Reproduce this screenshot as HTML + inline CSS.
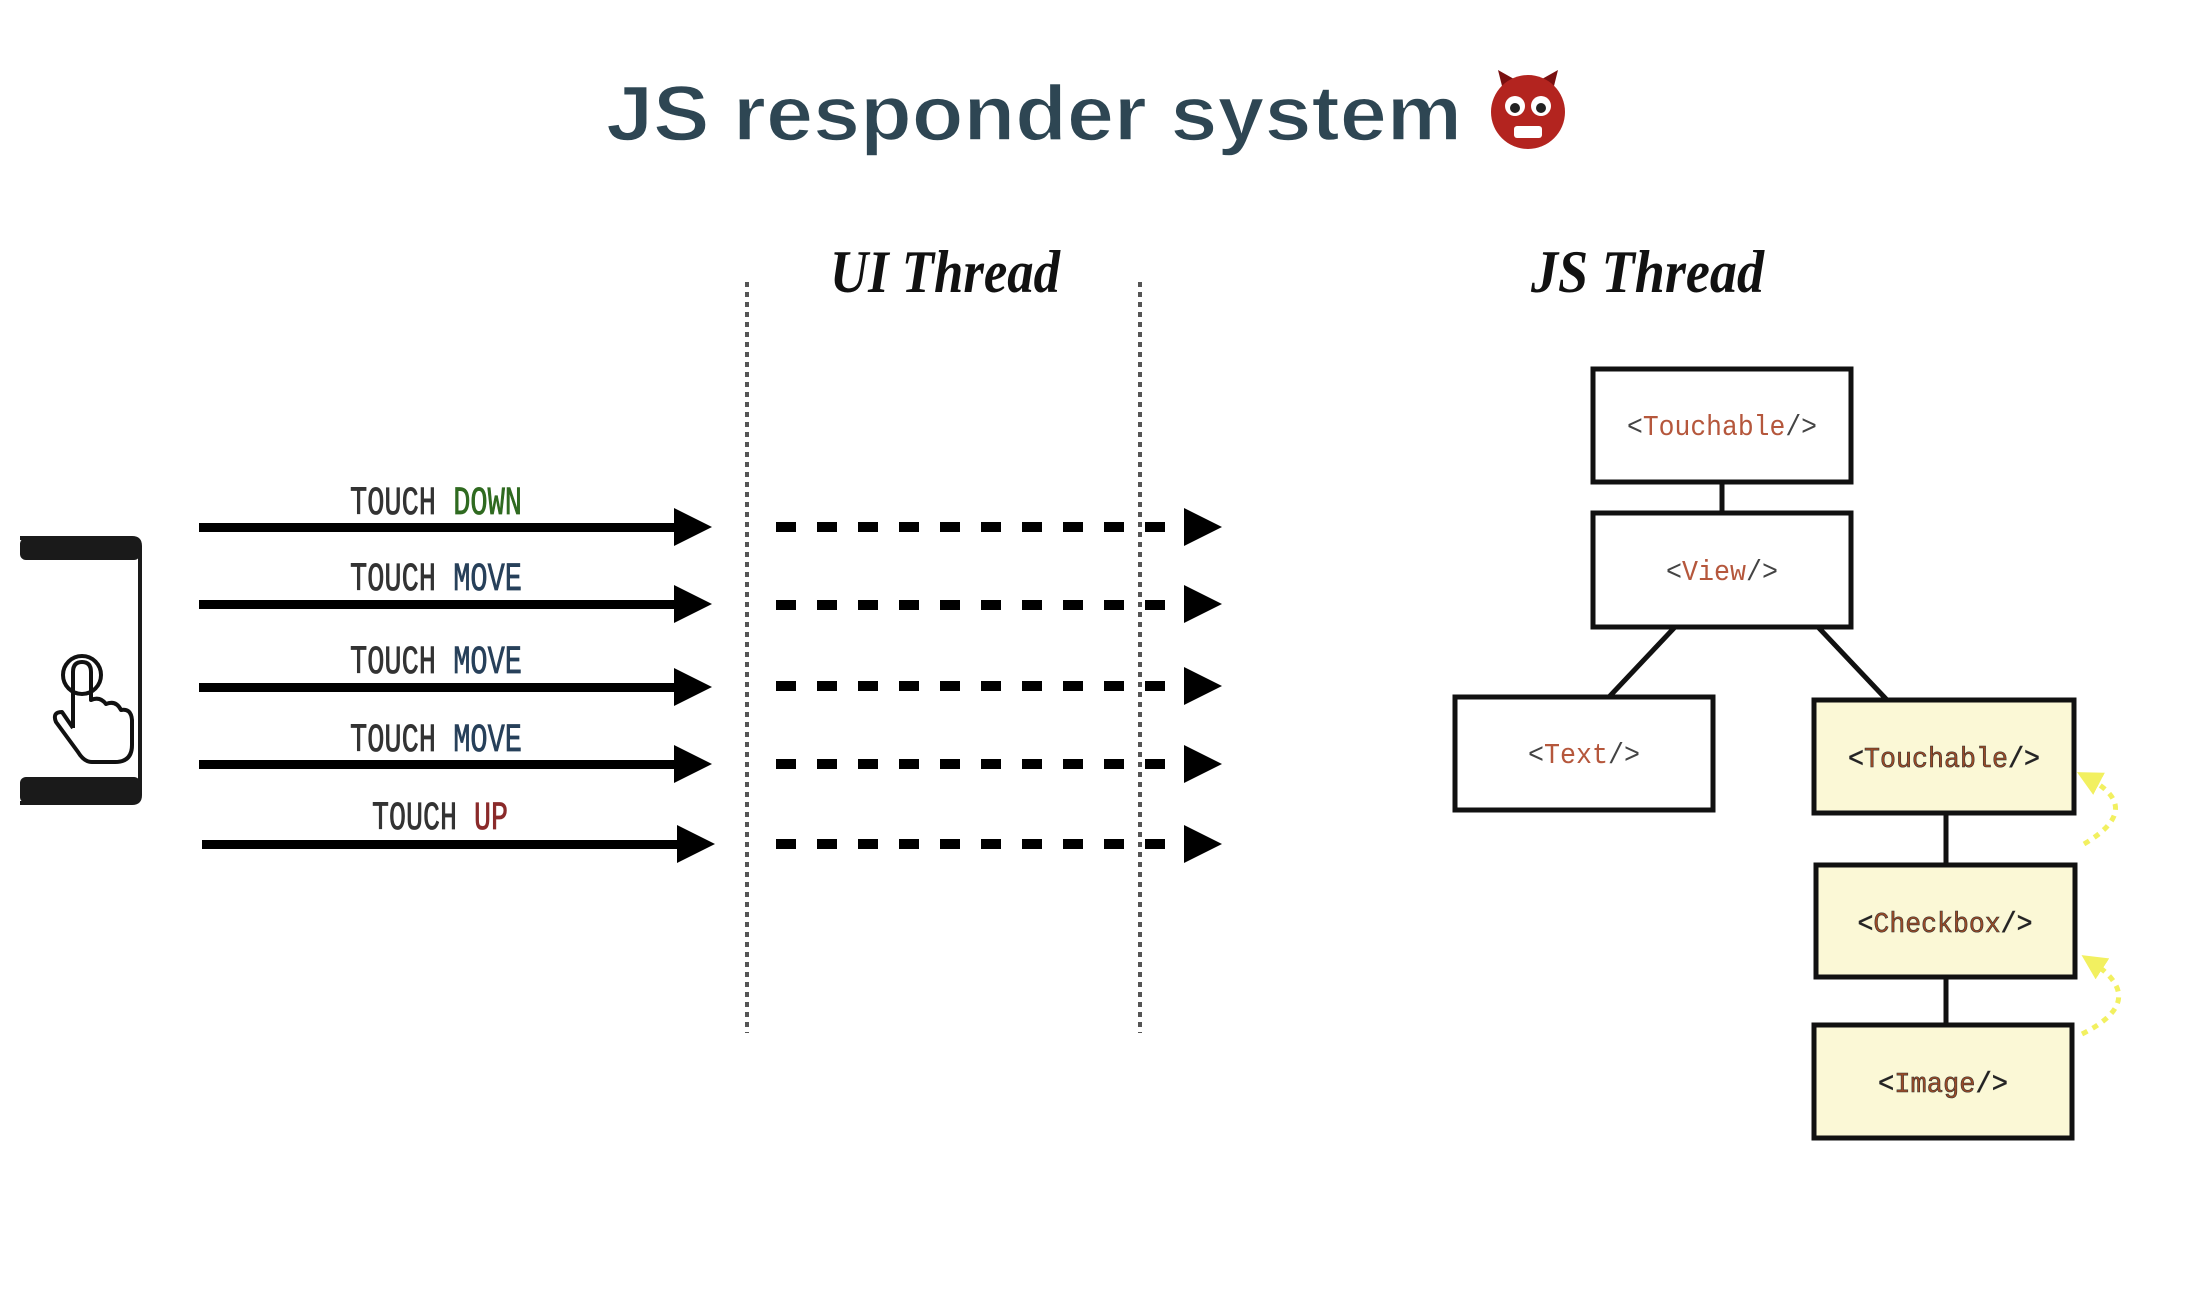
<!DOCTYPE html>
<html><head><meta charset="utf-8"><style>
html,body{margin:0;padding:0;background:#fff;}
svg{display:block}
.lbl{font-family:"Liberation Mono",monospace;font-size:40px;}
.node{font-family:"Liberation Mono",monospace;font-size:29px;}
</style></head><body>
<svg width="2198" height="1302" viewBox="0 0 2198 1302" xmlns="http://www.w3.org/2000/svg">
<defs>
<marker id="ya" markerWidth="5" markerHeight="5" refX="2.5" refY="2.5" orient="auto"><path d="M0,0 L5,2.5 L0,5z" fill="#f2f060"/></marker>
</defs>
<text x="606" y="140" font-family="Liberation Sans, sans-serif" font-weight="bold" font-size="78" fill="#2e4653" stroke="#fff" stroke-width="1.5" textLength="856" lengthAdjust="spacingAndGlyphs">JS responder system</text>
<g transform="translate(1528,112)">
<path d="M-26,-26 L-30,-42 L-14,-33 Z M26,-26 L30,-42 L14,-33Z" fill="#7a1010"/>
<circle r="37" fill="#b3241f"/>
<circle cx="-13" cy="-6" r="10" fill="#fff"/><circle cx="13" cy="-6" r="10" fill="#fff"/>
<circle cx="-13" cy="-4" r="5" fill="#222"/><circle cx="13" cy="-4" r="5" fill="#222"/>
<rect x="-14" y="14" width="28" height="12" rx="3" fill="#fff"/>
</g>
<text x="830" y="292" font-family="Liberation Serif, serif" font-style="italic" font-weight="bold" font-size="60" fill="#111" textLength="230" lengthAdjust="spacingAndGlyphs">UI Thread</text>
<text x="1531" y="292" font-family="Liberation Serif, serif" font-style="italic" font-weight="bold" font-size="60" fill="#111" textLength="233" lengthAdjust="spacingAndGlyphs">JS Thread</text>
<line x1="747" y1="282" x2="747" y2="1033" stroke="#555" stroke-width="4" stroke-dasharray="5,5"/>
<line x1="1140" y1="282" x2="1140" y2="1033" stroke="#555" stroke-width="4" stroke-dasharray="5,5"/>
<path d="M20,538 H132 Q140,538 140,546 V795 Q140,803 132,803 H20" fill="none" stroke="#1a1a1a" stroke-width="4"/>
<rect x="20" y="538" width="120" height="22" rx="6" fill="#1a1a1a"/>
<rect x="20" y="777" width="120" height="26" rx="6" fill="#1a1a1a"/>
<g fill="none" stroke="#111" stroke-width="4" stroke-linejoin="round">
<circle cx="82" cy="675" r="19"/>
<path d="M73,728 V672 Q73,662 82,662 Q91,662 91,672 V700 Q100,696 106,704 Q116,700 121,710 Q131,708 132,720 V745 Q132,762 115,762 H92 Q84,762 78,752 L56,722 Q52,712 62,712 L73,728"/>
</g>
<g fill="#000">
<rect x="199" y="523" width="478" height="9"/><path d="M674,508 L712,527 L674,546Z"/>
<rect x="199" y="600" width="478" height="9"/><path d="M674,585 L712,604 L674,623Z"/>
<rect x="199" y="683" width="478" height="9"/><path d="M674,668 L712,687 L674,706Z"/>
<rect x="199" y="760" width="478" height="9"/><path d="M674,745 L712,764 L674,783Z"/>
<rect x="202" y="840" width="478" height="9"/><path d="M677,825 L715,844 L677,863Z"/>
<path d="M1184,508 L1222,527 L1184,546Z"/>
<path d="M1184,585 L1222,604 L1184,623Z"/>
<path d="M1184,667 L1222,686 L1184,705Z"/>
<path d="M1184,745 L1222,764 L1184,783Z"/>
<path d="M1184,825 L1222,844 L1184,863Z"/>
</g>
<g stroke="#000" stroke-width="10" stroke-dasharray="20,21">
<line x1="776" y1="527" x2="1185" y2="527"/>
<line x1="776" y1="605" x2="1185" y2="605"/>
<line x1="776" y1="686" x2="1185" y2="686"/>
<line x1="776" y1="764" x2="1185" y2="764"/>
<line x1="776" y1="844" x2="1185" y2="844"/>
</g>
<g class="lbl" stroke-width="0.8">
<text x="436" y="514" text-anchor="middle" textLength="172" lengthAdjust="spacingAndGlyphs"><tspan fill="#333" stroke="#333">TOUCH </tspan><tspan fill="#2f6a20" stroke="#2f6a20">DOWN</tspan></text>
<text x="436" y="590" text-anchor="middle" textLength="172" lengthAdjust="spacingAndGlyphs"><tspan fill="#333" stroke="#333">TOUCH </tspan><tspan fill="#27405a" stroke="#27405a">MOVE</tspan></text>
<text x="436" y="673" text-anchor="middle" textLength="172" lengthAdjust="spacingAndGlyphs"><tspan fill="#333" stroke="#333">TOUCH </tspan><tspan fill="#27405a" stroke="#27405a">MOVE</tspan></text>
<text x="436" y="751" text-anchor="middle" textLength="172" lengthAdjust="spacingAndGlyphs"><tspan fill="#333" stroke="#333">TOUCH </tspan><tspan fill="#27405a" stroke="#27405a">MOVE</tspan></text>
<text x="440" y="829" text-anchor="middle" textLength="136" lengthAdjust="spacingAndGlyphs"><tspan fill="#333" stroke="#333">TOUCH </tspan><tspan fill="#8a2a2a" stroke="#8a2a2a">UP</tspan></text>
</g>
<g stroke="#111" stroke-width="5">
<line x1="1722" y1="482" x2="1722" y2="513"/>
<line x1="1675" y1="627" x2="1609" y2="697"/>
<line x1="1818" y1="627" x2="1887" y2="700"/>
<line x1="1946" y1="813" x2="1946" y2="865"/>
<line x1="1946" y1="977" x2="1946" y2="1025"/>
</g>
<g stroke="#111" stroke-width="5">
<rect x="1593" y="369" width="258" height="113" fill="#fff"/>
<rect x="1593" y="513" width="258" height="114" fill="#fff"/>
<rect x="1455" y="697" width="258" height="113" fill="#fff"/>
<rect x="1814" y="700" width="260" height="113" fill="#fbf8d6"/>
<rect x="1816" y="865" width="259" height="112" fill="#fbf8d6"/>
<rect x="1814" y="1025" width="258" height="113" fill="#fbf8d6"/>
</g>
<g class="node" text-anchor="middle">
<text x="1722" y="435" textLength="190" lengthAdjust="spacingAndGlyphs"><tspan fill="#444">&lt;</tspan><tspan fill="#b5573c">Touchable</tspan><tspan fill="#444">/&gt;</tspan></text>
<text x="1722" y="580" textLength="112" lengthAdjust="spacingAndGlyphs"><tspan fill="#444">&lt;</tspan><tspan fill="#b5573c">View</tspan><tspan fill="#444">/&gt;</tspan></text>
<text x="1584" y="763" textLength="112" lengthAdjust="spacingAndGlyphs"><tspan fill="#444">&lt;</tspan><tspan fill="#b5573c">Text</tspan><tspan fill="#444">/&gt;</tspan></text>
<text x="1944" y="767" textLength="192" lengthAdjust="spacingAndGlyphs" stroke="#333" stroke-width="0.6"><tspan fill="#222">&lt;</tspan><tspan fill="#9a4a26">Touchable</tspan><tspan fill="#222">/&gt;</tspan></text>
<text x="1945" y="932" textLength="175" lengthAdjust="spacingAndGlyphs" stroke="#333" stroke-width="0.6"><tspan fill="#222">&lt;</tspan><tspan fill="#9a4a26">Checkbox</tspan><tspan fill="#222">/&gt;</tspan></text>
<text x="1943" y="1092" textLength="130" lengthAdjust="spacingAndGlyphs" stroke="#333" stroke-width="0.6"><tspan fill="#222">&lt;</tspan><tspan fill="#9a4a26">Image</tspan><tspan fill="#222">/&gt;</tspan></text>
</g>
<path d="M2084,844 Q2145,808 2088,778" fill="none" stroke="#f2f060" stroke-width="5" stroke-dasharray="6,6" marker-end="url(#ya)"/>
<path d="M2082,1034 Q2150,1000 2092,962" fill="none" stroke="#f2f060" stroke-width="5" stroke-dasharray="6,6" marker-end="url(#ya)"/>
</svg>
</body></html>
